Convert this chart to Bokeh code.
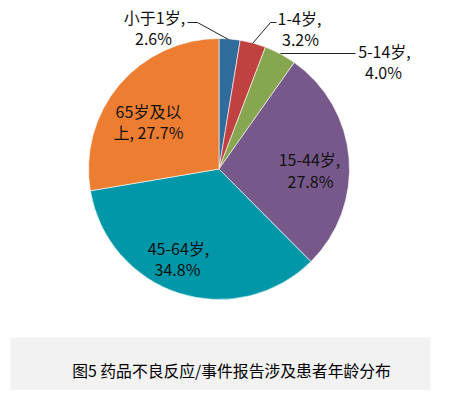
import numpy as np
from bokeh.plotting import figure
from bokeh.models import Range1d
from bokeh.core.properties import value
from bokeh.embed import file_html
from bokeh.resources import INLINE

categories = ["小于1岁", "1-4岁", "5-14岁", "15-44岁", "45-64岁", "65岁及以上"]
percents = [2.6, 3.2, 4.0, 27.8, 34.8, 27.7]
colors = ["#2F6C9B", "#BF4140", "#86A64F", "#77588A", "#0097A8", "#ED7D31"]
title = "图5 药品不良反应/事件报告涉及患者年龄分布"

W, H = 451, 390
p = figure(width=W, height=H, output_backend="svg", toolbar_location=None,
           x_range=Range1d(0, W), y_range=Range1d(398 - H, 398),
           min_border=0, outline_line_color=None)
p.axis.visible = False
p.grid.visible = False
p.background_fill_color = "white"
p.border_fill_color = "white"

def Y(y):
    return 398 - y

cx, cy, r = 218.5, Y(168.5), 130.5
fr = np.array(percents) / sum(percents)
cum = np.concatenate([[0], np.cumsum(fr)])
starts = np.pi / 2 - 2 * np.pi * cum[:-1]
ends = np.pi / 2 - 2 * np.pi * cum[1:]
p.wedge(x=cx, y=cy, radius=r, start_angle=starts, end_angle=ends,
        direction="clock", fill_color=colors, line_color="white", line_width=0.6)

font = value("Noto Sans CJK SC")
fs = "16px"

def lab(x, y, t, align="center"):
    p.text(x=[x], y=[Y(y)], text=[t], text_font=font, text_font_size=fs,
           text_align=align, text_baseline="middle", text_color="#111111")

lbl = [f"{c}," for c in categories]
pct = [f"{v:.1f}%" for v in percents]

# outside labels
lab(154, 16, lbl[0])
lab(153, 37, pct[0])
lab(299, 17, lbl[1])
lab(300, 38, pct[1])
lab(384, 50, lbl[2])
lab(383, 71, pct[2])
# inside labels
lab(309, 158, lbl[3])
lab(310, 180, pct[3])
lab(178, 247, lbl[4])
lab(177, 268, pct[4])
lab(148, 110, "65岁及以")
lab(148, 131, "上, " + pct[5])

# leader lines
p.line(x=[187, 197, 228], y=[Y(22), Y(22), Y(39)], line_color="#222222", line_width=1)
p.line(x=[276, 270, 252], y=[Y(22), Y(22), Y(43)], line_color="#222222", line_width=1)
p.line(x=[280, 355], y=[Y(53), Y(53)], line_color="#222222", line_width=1)

# caption box
p.quad(left=10, right=430, top=Y(337), bottom=Y(395), fill_color="#F2F2F2", line_color=None)
p.text(x=[231], y=[Y(370)], text=[title], text_font=font, text_font_size="15.8px",
       text_align="center", text_baseline="middle", text_color="#000000")

open("out.html", "w").write(file_html(p, INLINE))
